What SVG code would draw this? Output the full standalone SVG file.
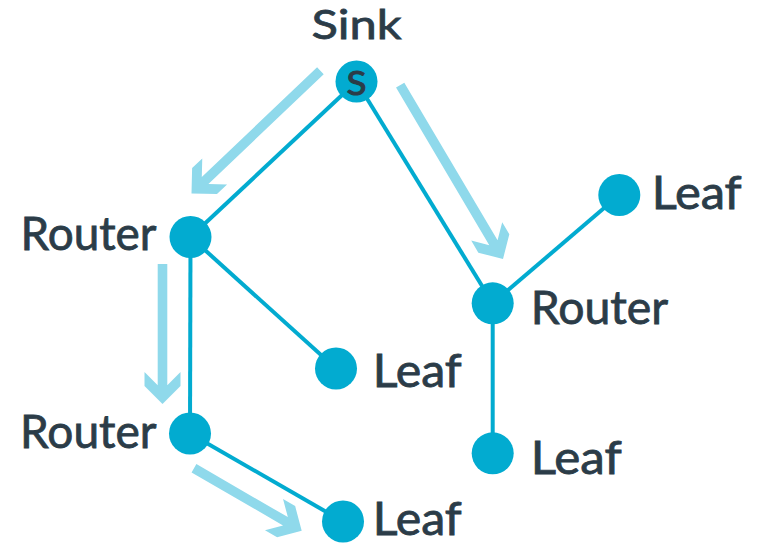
<svg xmlns="http://www.w3.org/2000/svg" width="757" height="543" viewBox="0 0 757 543">
<style>
.edge{stroke:#02abd0;stroke-width:4;fill:none}
.flow{fill:#8fd9eb}
.node{fill:#02abd0}
.lbl{font-family:Lato,"Open Sans",sans-serif;font-size:46px;fill:#2b3c48;stroke:#2b3c48;stroke-width:0.8}
.s{font-family:Lato,"Open Sans",sans-serif;font-size:33px;fill:#2b3c48;stroke:#2b3c48;stroke-width:1;text-anchor:middle}
</style>
<rect width="757" height="543" fill="#ffffff"/>
<g id="flows">
<path class="flow" transform="translate(191.5,193.5) rotate(46.4)" d="M0,0 L-18,-18 L-18,-32 L-4.8,-18.8 L-4.8,-178 L4.8,-178 L4.8,-18.8 L18,-32 L18,-18 Z"/>
<path class="flow" transform="translate(503,259) rotate(-30.6)" d="M0,0 L-18,-18 L-18,-32 L-4.8,-18.8 L-4.8,-202 L4.8,-202 L4.8,-18.8 L18,-32 L18,-18 Z"/>
<path class="flow" transform="translate(162.5,404)" d="M0,0 L-18,-18 L-18,-32 L-4.8,-18.8 L-4.8,-140 L4.8,-140 L4.8,-18.8 L18,-32 L18,-18 Z"/>
<path class="flow" transform="translate(301.7,530.7) rotate(-59.9)" d="M0,0 L-18,-18 L-18,-32 L-4.8,-18.8 L-4.8,-124.5 L4.8,-124.5 L4.8,-18.8 L18,-32 L18,-18 Z"/>
</g>
<g id="connectors">
<line class="edge" x1="356.5" y1="81.5" x2="190.5" y2="237"/>
<line class="edge" x1="356.5" y1="81.5" x2="492.7" y2="303.3"/>
<line class="edge" x1="190.5" y1="237" x2="190" y2="433.5"/>
<line class="edge" x1="190.5" y1="237" x2="336" y2="368.5"/>
<line class="edge" x1="190" y1="433.5" x2="343" y2="521.5"/>
<line class="edge" x1="492.7" y1="303.3" x2="619.3" y2="195"/>
<line class="edge" x1="492.7" y1="303.3" x2="492.7" y2="453.3"/>
</g>
<g id="sink">
<circle class="node" cx="356.5" cy="81.5" r="21"/>
<text class="s" x="356.5" y="94.5" textLength="20" lengthAdjust="spacingAndGlyphs">S</text>
<text class="lbl" x="311.5" y="39.3" style="font-size:41px" textLength="90" lengthAdjust="spacingAndGlyphs">Sink</text>
</g>
<g id="router1">
<circle class="node" cx="190.5" cy="237" r="21"/>
<text class="lbl" x="20.5" y="250" textLength="136" lengthAdjust="spacingAndGlyphs">Router</text>
</g>
<g id="router2">
<circle class="node" cx="190" cy="433.5" r="21"/>
<text class="lbl" x="20" y="448.3" textLength="136.5" lengthAdjust="spacingAndGlyphs">Router</text>
</g>
<g id="router3">
<circle class="node" cx="492.7" cy="303.3" r="21"/>
<text class="lbl" x="530.7" y="324" textLength="137.5" lengthAdjust="spacingAndGlyphs">Router</text>
</g>
<g id="leaf1">
<circle class="node" cx="336" cy="368.5" r="21"/>
<text class="lbl" x="372.7" y="386.7" textLength="89" lengthAdjust="spacingAndGlyphs">Leaf</text>
</g>
<g id="leaf2">
<circle class="node" cx="343" cy="521.5" r="21"/>
<text class="lbl" x="372.7" y="534.5" textLength="89" lengthAdjust="spacingAndGlyphs">Leaf</text>
</g>
<g id="leaf3">
<circle class="node" cx="619.3" cy="195" r="21"/>
<text class="lbl" x="651.7" y="209.3" textLength="90" lengthAdjust="spacingAndGlyphs">Leaf</text>
</g>
<g id="leaf4">
<circle class="node" cx="492.7" cy="453.3" r="21"/>
<text class="lbl" x="530.7" y="474" textLength="91" lengthAdjust="spacingAndGlyphs">Leaf</text>
</g>
</svg>
